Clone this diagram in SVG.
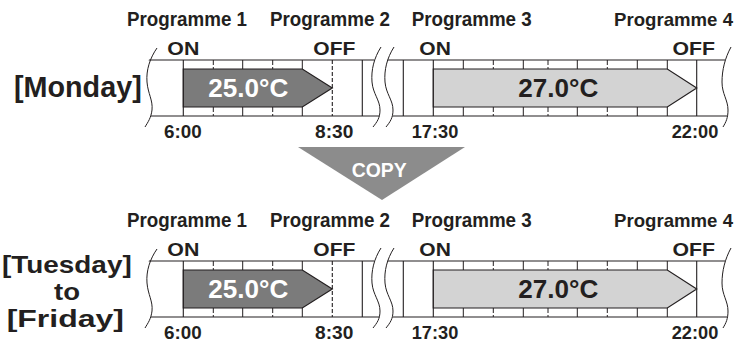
<svg xmlns="http://www.w3.org/2000/svg" width="737" height="342" viewBox="0 0 737 342">
<style>
.t{font-family:"Liberation Sans",Arial,sans-serif;font-weight:bold;fill:#231f20}
.pg{font-size:20px}
.pg4{font-size:18.5px}
.oo{font-size:19px}
.tm{font-size:19px}
.day{font-size:29px}
.day2{font-size:24px}
.temp{font-size:26px}
.hl{stroke:#231f20;stroke-width:1.2;fill:none}
.vl{stroke:#231f20;stroke-width:1.1}
.dl{stroke:#231f20;stroke-width:1.1;stroke-dasharray:4 2}
.tk{stroke:#231f20;stroke-width:1}
.tkd{stroke:#231f20;stroke-width:1;stroke-dasharray:5 2 3}
.wv{stroke:#231f20;stroke-width:1;fill:none}
.mask{fill:#fff;stroke:none}
.a1{fill:#7b7b7b;stroke:#231f20;stroke-width:1.2}
.a2{fill:#d3d3d3;stroke:#231f20;stroke-width:1.2}
</style>
<defs>
<g id="timeline">
<line class="hl" x1="140" y1="60" x2="737" y2="60"/>
<line class="hl" x1="140" y1="116" x2="737" y2="116"/>
<line class="vl" x1="183.3" y1="60" x2="183.3" y2="116"/>
<line class="dl" x1="332.3" y1="60" x2="332.3" y2="116"/>
<line class="vl" x1="362.3" y1="60" x2="362.3" y2="116"/>
<line class="vl" x1="403.3" y1="60" x2="403.3" y2="116"/>
<line class="vl" x1="433.3" y1="60" x2="433.3" y2="116"/>
<line class="vl" x1="696.7" y1="60" x2="696.7" y2="116"/>
<path class="tkd" d="M213.3,60V69M213.3,107V116M272.7,60V69M272.7,107V116M493.3,60V69M493.3,107V116M548,60V69M548,107V116M607.3,60V69M607.3,107V116"/>
<path class="tk" d="M242.7,60V69M242.7,107V116M302.3,60V69M302.3,107V116M463.3,60V69M463.3,107V116M523.3,60V69M523.3,107V116M577.3,60V69M577.3,107V116M637.3,60V69M637.3,107V116M667.3,60V69M667.3,107V116"/>
<polygon class="a1" points="183.3,69 302.3,69 332.3,88 302.3,107 183.3,107"/>
<polygon class="a2" points="433.3,69 667.3,69 696.7,88 667.3,107 433.3,107"/>
<path class="mask" d="M140,55 L150,55 C146,70 146,80 147,88 C149,98 153,102 152,110 C151,116 150,118 148,121 L140,121Z"/>
<path class="mask" d="M376,55 C372,66 371,74 372,82 C373,94 380,100 380,110 C380,116 379,119 377,121 L390,121 C392,119 393,116 393,110 C393,100 386,94 385,82 C384,74 385,66 389,55Z"/>
<path class="mask" d="M727,55 C723,66 722,74 722,82 C722,94 728,100 728,110 C728,116 727,119 726,121 L737,121 L737,55Z"/>
<path class="wv" d="M157,48 C150,58 146,70 147,82 C148,94 153,100 152,110 C151,118 148,122 145,127"/>
<path class="wv" d="M381,47 C374,58 371,70 372,82 C373,94 380,100 380,110 C380,118 377,122 373,127"/>
<path class="wv" d="M394,47 C387,58 384,70 385,82 C386,94 393,100 393,110 C393,118 390,122 386,127"/>
<path class="wv" d="M731,47 C725,58 722,70 722,82 C722,94 728,100 728,110 C728,118 726,122 723,127"/>
</g>
</defs>
<g id="monday-row">
<use href="#timeline"/>
<text class="t pg" x="127" y="26" textLength="120" lengthAdjust="spacingAndGlyphs">Programme 1</text>
<text class="t pg" x="270" y="26" textLength="120" lengthAdjust="spacingAndGlyphs">Programme 2</text>
<text class="t pg" x="411.7" y="26" textLength="120" lengthAdjust="spacingAndGlyphs">Programme 3</text>
<text class="t pg4" x="614" y="26" textLength="119" lengthAdjust="spacingAndGlyphs">Programme 4</text>
<text class="t oo" x="167.3" y="54.5" textLength="32" lengthAdjust="spacingAndGlyphs">ON</text>
<text class="t oo" x="313.3" y="54.5" textLength="42" lengthAdjust="spacingAndGlyphs">OFF</text>
<text class="t oo" x="419.3" y="54.5" textLength="31.5" lengthAdjust="spacingAndGlyphs">ON</text>
<text class="t oo" x="672.5" y="54.5" textLength="42.5" lengthAdjust="spacingAndGlyphs">OFF</text>
<text class="t temp" x="208.3" y="97" textLength="80" lengthAdjust="spacingAndGlyphs" style="fill:#fff">25.0°C</text>
<text class="t temp" x="518.3" y="97" textLength="80" lengthAdjust="spacingAndGlyphs">27.0°C</text>
<text class="t tm" x="164" y="137.5" textLength="37.7" lengthAdjust="spacingAndGlyphs">6:00</text>
<text class="t tm" x="315" y="137.5" textLength="38.3" lengthAdjust="spacingAndGlyphs">8:30</text>
<text class="t tm" x="411.7" y="137.5" textLength="46.6" lengthAdjust="spacingAndGlyphs">17:30</text>
<text class="t tm" x="671.7" y="137.5" textLength="46.6" lengthAdjust="spacingAndGlyphs">22:00</text>
<text class="t day" x="14" y="97.3" textLength="127.7" lengthAdjust="spacingAndGlyphs">[Monday]</text>
</g>
<g id="connectors">
<g id="copy-arrow">
<polygon points="298,147 465,147 382,200" fill="#8c8c8c"/>
<text class="t pg" x="351.7" y="177.3" textLength="55" lengthAdjust="spacingAndGlyphs" style="fill:#fff">COPY</text>
</g>
</g>
<g id="tuesday-friday-row">
<use href="#timeline" transform="translate(0,201)"/>
<text class="t pg" x="127" y="227" textLength="120" lengthAdjust="spacingAndGlyphs">Programme 1</text>
<text class="t pg" x="270" y="227" textLength="120" lengthAdjust="spacingAndGlyphs">Programme 2</text>
<text class="t pg" x="411.7" y="227" textLength="120" lengthAdjust="spacingAndGlyphs">Programme 3</text>
<text class="t pg4" x="614" y="227" textLength="119" lengthAdjust="spacingAndGlyphs">Programme 4</text>
<text class="t oo" x="167.3" y="255.5" textLength="32" lengthAdjust="spacingAndGlyphs">ON</text>
<text class="t oo" x="313.3" y="255.5" textLength="42" lengthAdjust="spacingAndGlyphs">OFF</text>
<text class="t oo" x="419.3" y="255.5" textLength="31.5" lengthAdjust="spacingAndGlyphs">ON</text>
<text class="t oo" x="672.5" y="255.5" textLength="42.5" lengthAdjust="spacingAndGlyphs">OFF</text>
<text class="t temp" x="208.3" y="298" textLength="80" lengthAdjust="spacingAndGlyphs" style="fill:#fff">25.0°C</text>
<text class="t temp" x="518.3" y="298" textLength="80" lengthAdjust="spacingAndGlyphs">27.0°C</text>
<text class="t tm" x="164" y="338.5" textLength="37.7" lengthAdjust="spacingAndGlyphs">6:00</text>
<text class="t tm" x="315" y="338.5" textLength="38.3" lengthAdjust="spacingAndGlyphs">8:30</text>
<text class="t tm" x="411.7" y="338.5" textLength="46.6" lengthAdjust="spacingAndGlyphs">17:30</text>
<text class="t tm" x="671.7" y="338.5" textLength="46.6" lengthAdjust="spacingAndGlyphs">22:00</text>
<text class="t day2" x="2" y="272.5" textLength="129.7" lengthAdjust="spacingAndGlyphs">[Tuesday]</text>
<text class="t day2" x="67" y="299.5" text-anchor="middle" textLength="26" lengthAdjust="spacingAndGlyphs">to</text>
<text class="t day2" x="6.7" y="326.5" textLength="117.3" lengthAdjust="spacingAndGlyphs">[Friday]</text>
</g>
</svg>
